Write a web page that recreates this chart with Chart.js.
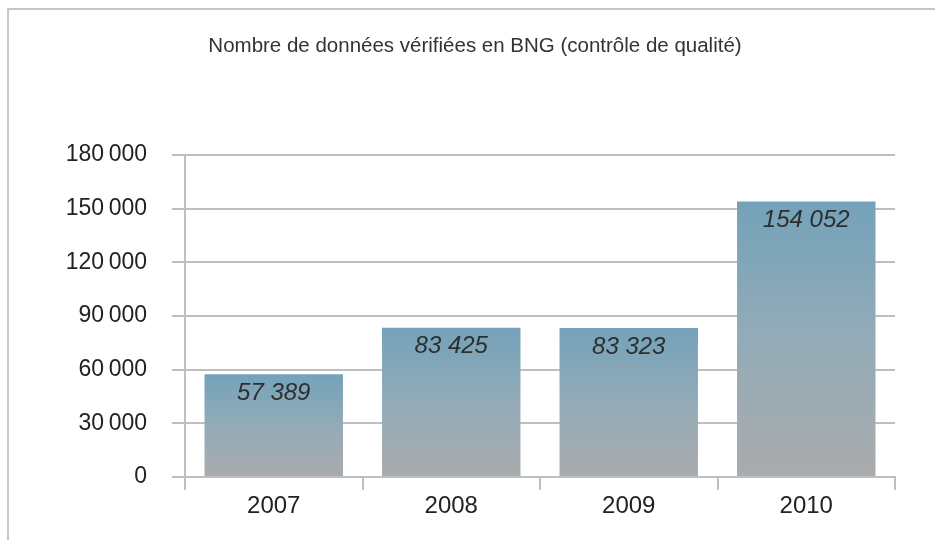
<!DOCTYPE html>
<html lang="fr">
<head>
<meta charset="utf-8">
<title>Nombre de données vérifiées en BNG</title>
<script src="https://cdn.jsdelivr.net/npm/chart.js@4/dist/chart.umd.min.js"></script>
<style>
  html, body { margin: 0; padding: 0; background: #fff; }
  #wrap { position: relative; width: 935px; height: 540px; }
  #frame {
    position: absolute; left: 7px; top: 8px; right: 0; bottom: 0;
    border-top: 2px solid #c6c6c6; border-left: 2px solid #c6c6c6;
  }
  canvas { position: absolute; left: 0; top: 0; }
</style>
</head>
<body>
<div id="wrap">
  <div id="frame"></div>
  <canvas id="chartBng" width="935" height="540"></canvas>
</div>
<script>
  // Données
  const years = ['2007', '2008', '2009', '2010'];
  const verifiedCounts = [57389, 83425, 83323, 154052];
  const yTicks = [0, 30000, 60000, 90000, 120000, 150000, 180000];
  const chartTitle = 'Nombre de données vérifiées en BNG (contrôle de qualité)';

  const GRID = '#bcbec0';
  const TEXT = '#222222';
  const FONT = "'Liberation Sans', Arial, sans-serif";

  function groupDigits(v, sep) {
    return String(v).replace(/\B(?=(\d{3})+(?!\d))/g, sep);
  }

  // dégradé vertical par barre (bleu en haut, gris en bas)
  function barGradient(context) {
    const chart = context.chart;
    if (!chart.chartArea || context.type !== 'data') return '#8ea9b8';
    const y = chart.scales.y;
    const top = y.getPixelForValue(context.parsed.y);
    const base = y.getPixelForValue(0);
    const g = chart.ctx.createLinearGradient(0, top, 0, base);
    g.addColorStop(0, '#74a2ba');
    g.addColorStop(0.5, '#93abb8');
    g.addColorStop(1, '#aaabad');
    return g;
  }

  // étiquettes des valeurs dans les barres
  const valueLabels = {
    id: 'valueLabels',
    afterDatasetsDraw(chart) {
      const ctx = chart.ctx;
      const meta = chart.getDatasetMeta(0);
      ctx.save();
      ctx.font = "italic 24px " + FONT;
      ctx.fillStyle = '#2e2e2e';
      ctx.textAlign = 'center';
      ctx.textBaseline = 'middle';
      meta.data.forEach((bar, i) => {
        ctx.fillText(groupDigits(verifiedCounts[i], ' '), bar.x, bar.y + 19);
      });
      ctx.restore();
    }
  };

  new Chart(document.getElementById('chartBng'), {
    type: 'bar',
    data: {
      labels: years,
      datasets: [{
        data: verifiedCounts,
        backgroundColor: barGradient,
        borderWidth: 0,
        barPercentage: 0.78,
        categoryPercentage: 1
      }]
    },
    options: {
      responsive: false,
      animation: false,
      // left/right padding also centre the title at x ~ 475
      layout: { padding: { left: 55, right: 40, top: 0, bottom: 0 } },
      plugins: {
        legend: { display: false },
        tooltip: { enabled: false },
        title: {
          display: true,
          text: chartTitle,
          color: '#333333',
          font: { family: FONT, size: 20.5, weight: 'normal', lineHeight: 1.2 },
          padding: { top: 34, bottom: 96.4 }
        }
      },
      scales: {
        x: {
          grid: {
            offset: true,
            drawOnChartArea: false,
            drawTicks: true,
            tickLength: 13,
            color: GRID,
            lineWidth: 2
          },
          border: { display: true, color: GRID, width: 2 },
          ticks: {
            color: TEXT,
            padding: 2,
            font: { family: FONT, size: 24 }
          },
          afterFit(scale) { scale.height = 63; }
        },
        y: {
          min: 0,
          max: 180000,
          afterBuildTicks(scale) {
            scale.ticks = yTicks.map(v => ({ value: v }));
          },
          grid: {
            drawTicks: true,
            tickLength: 13,
            color: GRID,
            lineWidth: 2
          },
          border: { display: true, color: GRID, width: 2 },
          ticks: {
            color: TEXT,
            padding: 25,
            font: { family: FONT, size: 23 },
            callback: v => groupDigits(v, '\u2009')
          },
          afterFit(scale) { scale.width = 130; }
        }
      }
    },
    plugins: [valueLabels]
  });
</script>
</body>
</html>
